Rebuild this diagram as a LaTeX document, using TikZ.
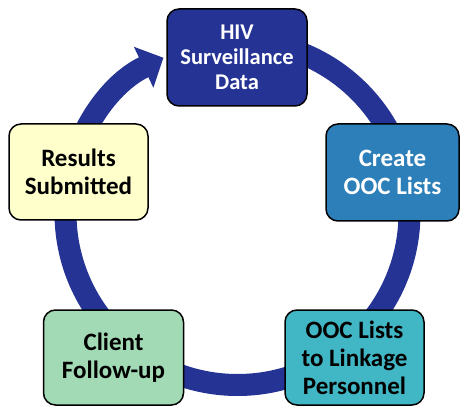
\documentclass[tikz,border=0pt]{standalone}
\usepackage{fontspec}
\setmainfont{Carlito}
\usetikzlibrary{arrows.meta}
\definecolor{cDark}{HTML}{253494}
\definecolor{cBlue}{HTML}{2C7FB8}
\definecolor{cTeal}{HTML}{41B6C4}
\definecolor{cGreen}{HTML}{A1DAB4}
\definecolor{cYellow}{HTML}{FFFFCC}
\tikzset{
  stepbox/.style={draw=black, line width=1.5pt, rounded corners=12pt, align=center,
    inner sep=0pt, font=\bfseries\fontsize{25}{28}\selectfont},
  ring/.style={draw=cDark, line width=22pt, -{Triangle[length=22pt,width=44pt]}}
}
\begin{document}
\begin{tikzpicture}[x=1pt,y=1pt]
\useasboundingbox (0,0) rectangle (460,407);
% ring
\coordinate (c) at (237.5,194);
\draw[ring] ([shift={(88:172)}]c) arc[start angle=88, end angle=-244.5, radius=172];
% boxes
\node[stepbox, fill=cDark, text=white, minimum width=140pt, minimum height=97pt,
  font=\bfseries\fontsize{22.5}{25}\selectfont] (hiv) at (237,349.5) {HIV\\Surveillance\\Data};
\node[stepbox, fill=cBlue, text=white, minimum width=133pt, minimum height=97pt] (create) at (392.5,234.5) {Create\\OOC Lists};
\node[stepbox, fill=cTeal, minimum width=139pt, minimum height=95pt] (ooc) at (354.5,49.5) {OOC Lists\\to Linkage\\Personnel};
\node[stepbox, fill=cGreen, minimum width=140pt, minimum height=95pt] (client) at (113.5,49.5) {Client\\Follow-up};
\node[stepbox, fill=cYellow, minimum width=139pt, minimum height=96pt] (results) at (78.5,235) {Results\\Submitted};
\end{tikzpicture}
\end{document}
